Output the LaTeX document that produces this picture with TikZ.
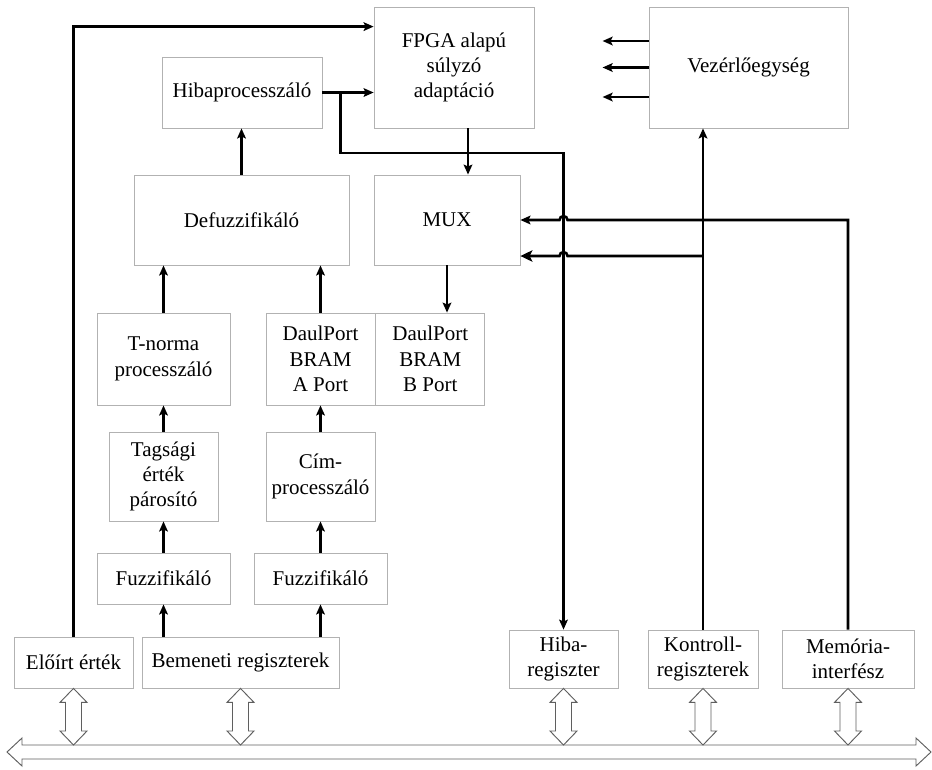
\documentclass[tikz,border=0pt]{standalone}
\usepackage{fontspec}
\setmainfont{Liberation Serif}
\usetikzlibrary{arrows.meta, positioning, calc}

\definecolor{boxgray}{RGB}{178,178,178}
\definecolor{portgray}{RGB}{95,95,95}

% double headed link between a register and the bus
\newcommand\busport[1]{%
  \path (#1.south) coordinate (ptop) (#1.south |- bustop) coordinate (pbot);
  \draw[port] (ptop) -- ++(13.5,14) -- ++(-5.5,0) -- ($(pbot)+(8,-14)$) -- ++(5.5,0)
    -- (pbot) -- ++(-13.5,-14) -- ++(5.5,0) -- ($(ptop)+(-8,14)$) -- ++(-5.5,0) -- cycle;
}

\begin{document}
\begin{tikzpicture}[
  x=0.75pt, y=-0.75pt,
  blk/.style={draw=boxgray, line width=0.6pt, align=center, inner sep=2pt,
    font=\fontsize{15.75}{19}\selectfont},
  wire/.style={line width=1.9pt},
  arrow/.style={wire, -{Stealth[length=7.5pt, width=6.5pt, inset=1.5pt]}},
  bigarrow/.style={wire, -{Stealth[length=9pt, width=8.5pt, inset=2pt]}},
  port/.style={draw=portgray, line width=0.7pt, fill=white}
]
\useasboundingbox (0,0) rectangle (932,769);

\node[blk, minimum width=120pt, minimum height=90.75pt] (fpga) at (454,67.5) {FPGA alapú\\súlyzó\\adaptáció};
\node[blk, minimum width=149.25pt, minimum height=90.75pt] (vez) at (748.5,67.5) {Vezérlőegység};
\node[blk, minimum width=120pt, minimum height=53.25pt] (hibp) at (242,92.5) {Hibaprocesszáló};
\node[blk, minimum width=161.25pt, minimum height=67.5pt] (defuzz) at (241.5,220) {Defuzzifikáló};
\node[blk, minimum width=109.5pt, minimum height=67.5pt] (mux) at (447,220) {MUX};
\node[blk, minimum width=99.75pt, minimum height=69pt] (tnorm) at (163.5,359) {T-norma\\processzáló};
\node[blk, minimum width=81.75pt, minimum height=69pt] (porta) at (320.5,359) {DaulPort\\BRAM\\A Port};
\node[blk, minimum width=81.75pt, minimum height=69pt, right=0pt of porta] (portb) {DaulPort\\BRAM\\B Port};
\node[blk, minimum width=81.75pt, minimum height=66.75pt] (tags) at (163.5,476.5) {Tagsági\\érték\\párosító};
\node[blk, minimum width=81.75pt, minimum height=66.75pt] (cim) at (320.5,476.5) {Cím-\\processzáló};
\node[blk, minimum width=99.75pt, minimum height=38.25pt] (fuzza) at (163.5,578.5) {Fuzzifikáló};
\node[blk, minimum width=99.75pt, minimum height=38.25pt] (fuzzb) at (320.5,578.5) {Fuzzifikáló};
\node[blk, minimum width=89.25pt, minimum height=38.25pt] (elo) at (73.5,662.5) {Előírt érték};
\node[blk, minimum width=147.75pt, minimum height=38.25pt] (bem) at (240.5,662.5) {Bemeneti regiszterek};
\node[blk, minimum width=81.75pt, minimum height=43.5pt] (hreg) at (563.5,659) {Hiba-\\regiszter};
\node[blk, minimum width=82.5pt, minimum height=43.5pt] (kreg) at (703,659) {Kontroll-\\regiszterek};
\node[blk, minimum width=99pt, minimum height=43.5pt] (mem) at (848,659) {Memória-\\interfész};

% input chain
\draw[arrow] (fuzza.south |- bem.north) -- (fuzza.south);
\draw[arrow] (fuzzb.south |- bem.north) -- (fuzzb.south);
\draw[arrow] (fuzza.north) -- (fuzza.north |- tags.south);
\draw[arrow] (fuzzb.north) -- (fuzzb.north |- cim.south);
\draw[arrow] (tags.north) -- (tags.north |- tnorm.south);
\draw[arrow] (cim.north) -- (cim.north |- porta.south);
\draw[arrow] (tnorm.north) -- (tnorm.north |- defuzz.south);
\draw[arrow] (porta.north) -- (porta.north |- defuzz.south);
\draw[arrow] (defuzz.north) -- (defuzz.north |- hibp.south);

% adaptation loop
\draw[arrow] (elo.north) |- ([yshift=-15pt]fpga.north west);
\draw[arrow] (hibp.east) -- (hibp.east -| fpga.west);
\coordinate (split) at ($(hibp.east)+(18,0)$);
\draw[arrow] (split) -- ++(0,60.5) -| (hreg.north);
\draw[arrow] ([xshift=10.5pt]fpga.south) -- ([xshift=10.5pt]fpga.south |- mux.north);
\draw[arrow] (mux.south) -- (mux.south |- portb.north);

% control unit
\draw[arrow] ([yshift=19.875pt]vez.west) -- ++(-46,0);
\draw[arrow] (vez.west) -- ++(-46,0);
\draw[arrow] ([yshift=-22.125pt]vez.west) -- ++(-46,0);
\draw[arrow] (kreg.north) -- (kreg.north |- vez.south);

% MUX inputs, hopping over the error line
\coordinate (lowin) at ([yshift=-27pt]mux.east);
\draw[arrow] (mem.north) |- ($(hreg.north |- mux.east)+(4,0)$)
  arc[start angle=0, end angle=-180, radius=4] -- (mux.east);
\draw[bigarrow] (kreg.north |- lowin) -- ($(hreg.north |- lowin)+(4,0)$)
  arc[start angle=0, end angle=-180, radius=4] -- (lowin);

% system bus
\coordinate (bustop) at (469,745);
\draw[port] (7,752) -- (22,738) -- (22,745) -- (916,745) -- (916,738) -- (931,752)
  -- (916,766) -- (916,759) -- (22,759) -- (22,766) -- cycle;
\busport{elo}
\busport{bem}
\busport{hreg}
\busport{kreg}
\busport{mem}
\end{tikzpicture}
\end{document}
